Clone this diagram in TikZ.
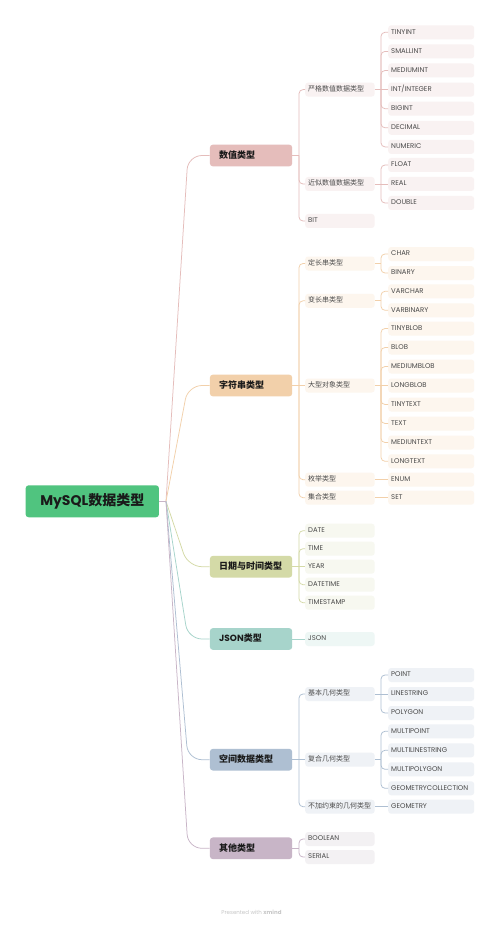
\documentclass[tikz,border=0pt]{standalone}
\usepackage{fontspec}
\setmainfont{Poppins}
\newfontfamily\cjk{Noto Sans CJK SC}
\newcommand\zh[1]{{\cjk\fontsize{7}{8}\selectfont #1}}
\definecolor{rootC}{HTML}{50C47F}
\definecolor{numC}{HTML}{E5BDBB}
\definecolor{numL}{HTML}{F9F2F2}
\definecolor{strC}{HTML}{F2D0AA}
\definecolor{strL}{HTML}{FDF6EE}
\definecolor{datC}{HTML}{D4DAA7}
\definecolor{datL}{HTML}{F7F8F0}
\definecolor{jsnC}{HTML}{A7D4CB}
\definecolor{jsnL}{HTML}{EEF7F5}
\definecolor{spaC}{HTML}{AEBFD2}
\definecolor{spaL}{HTML}{EFF2F6}
\definecolor{othC}{HTML}{C8B5C7}
\definecolor{othL}{HTML}{F3F1F3}
\definecolor{txtgray}{HTML}{4A4A4A}
\definecolor{txtdark}{HTML}{1A1A1A}
\tikzset{
  base/.style={rectangle, rounded corners=3pt, anchor=west, inner ysep=0pt, align=left},
  leaf/.style={base, fill=#1, minimum height=14pt, text width=80pt, inner xsep=3pt,
    font=\fontsize{6.9}{7}\selectfont, text=txtgray, text height=5pt, text depth=1.1pt},
  mid/.style={base, fill=#1, minimum height=14pt, text width=63.5pt, inner xsep=3pt,
    font=\fontsize{6.9}{7}\selectfont, text=txtgray, text height=5pt, text depth=1.1pt},
  top/.style={base, fill=#1, minimum height=21.7pt, text width=63.7pt, inner xsep=9.3pt,
    font=\cjk\bfseries\fontsize{9}{10}\selectfont, text=txtdark, text height=7pt, text depth=1.4pt},
  conn/.style={draw=#1, line width=0.75pt},
}
\newcommand\mmroot[2]{%
  \draw[conn=#2] (root.east) -- (r0);
  \draw[conn=#2, rounded corners=14pt] (r0) -- (tA |- #1.west) -- (#1.west);}
\newcommand\mmstem[3]{\draw[conn=#3] (#1.east) -- (#2 |- #1.east);}
\newcommand\mmfork[4]{\draw[conn=#4, rounded corners=4pt] (#3 |- #1.east) -- (#3 |- #2.west) -- (#2.west);}
\newcommand\mmline[3]{\draw[conn=#3] (#1.east) -- (#2.west);}
\begin{document}
\begin{tikzpicture}[x=1pt,y=-1pt]
\useasboundingbox (0,0) rectangle (500,925);
\fill[white] (0,0) rectangle (500,925);
\coordinate (r0) at (166,501.3);
\coordinate (tA) at (188,0);
\coordinate (tB) at (299,0);
\coordinate (tC) at (381,0);

% root
\node[fill=rootC, rounded corners=3pt, minimum width=133.3pt, minimum height=32pt, inner sep=0pt,
  text=txtdark, font=\fontsize{14}{16}\selectfont] (root) at (92.3,501.3)
  {\bfseries MySQL{\cjk\bfseries 数据类型}};

% ===== numeric =====
\node[top=numC] (num) at (209.7,155.5) {数值类型};
\node[mid=numL] (num1) at (305,89.6) {\zh{严格数值数据类型}};
\node[mid=numL] (num2) at (305,184) {\zh{近似数值数据类型}};
\node[mid=numL] (num3) at (305,221) {BIT};
\node[leaf=numL] (num1a) at (388,32.3) {TINYINT};
\node[leaf=numL] (num1b) at (388,51.4) {SMALLINT};
\node[leaf=numL] (num1c) at (388,70.5) {MEDIUMINT};
\node[leaf=numL] (num1d) at (388,89.6) {INT/INTEGER};
\node[leaf=numL] (num1e) at (388,108.7) {BIGINT};
\node[leaf=numL] (num1f) at (388,127.8) {DECIMAL};
\node[leaf=numL] (num1g) at (388,146.9) {NUMERIC};
\node[leaf=numL] (num2a) at (388,165) {FLOAT};
\node[leaf=numL] (num2b) at (388,184) {REAL};
\node[leaf=numL] (num2c) at (388,203) {DOUBLE};
\mmroot{num}{numC}
\mmstem{num}{tB}{numC}
\mmfork{num}{num1}{tB}{numC}
\mmfork{num}{num2}{tB}{numC}
\mmfork{num}{num3}{tB}{numC}
\mmstem{num1}{tC}{numC}
\mmfork{num1}{num1a}{tC}{numC}
\mmfork{num1}{num1b}{tC}{numC}
\mmfork{num1}{num1c}{tC}{numC}
\mmline{num1}{num1d}{numC}
\mmfork{num1}{num1e}{tC}{numC}
\mmfork{num1}{num1f}{tC}{numC}
\mmfork{num1}{num1g}{tC}{numC}
\mmstem{num2}{tC}{numC}
\mmfork{num2}{num2a}{tC}{numC}
\mmline{num2}{num2b}{numC}
\mmfork{num2}{num2c}{tC}{numC}

% ===== string =====
\node[top=strC] (str) at (209.7,385.5) {字符串类型};
\node[mid=strL] (str1) at (305,263.5) {\zh{定长串类型}};
\node[mid=strL] (str2) at (305,300.8) {\zh{变长串类型}};
\node[mid=strL] (str3) at (305,385.5) {\zh{大型对象类型}};
\node[mid=strL] (str4) at (305,479.7) {\zh{枚举类型}};
\node[mid=strL] (str5) at (305,497.7) {\zh{集合类型}};
\node[leaf=strL] (str1a) at (388,254) {CHAR};
\node[leaf=strL] (str1b) at (388,273) {BINARY};
\node[leaf=strL] (str2a) at (388,291.3) {VARCHAR};
\node[leaf=strL] (str2b) at (388,310.3) {VARBINARY};
\node[leaf=strL] (str3a) at (388,328.5) {TINYBLOB};
\node[leaf=strL] (str3b) at (388,347.5) {BLOB};
\node[leaf=strL] (str3c) at (388,366.5) {MEDIUMBLOB};
\node[leaf=strL] (str3d) at (388,385.5) {LONGBLOB};
\node[leaf=strL] (str3e) at (388,404.5) {TINYTEXT};
\node[leaf=strL] (str3f) at (388,423.5) {TEXT};
\node[leaf=strL] (str3g) at (388,442.5) {MEDIUNTEXT};
\node[leaf=strL] (str3h) at (388,461.3) {LONGTEXT};
\node[leaf=strL] (str4a) at (388,479.7) {ENUM};
\node[leaf=strL] (str5a) at (388,497.7) {SET};
\mmroot{str}{strC}
\mmstem{str}{tB}{strC}
\mmfork{str}{str1}{tB}{strC}
\mmfork{str}{str2}{tB}{strC}
\mmline{str}{str3}{strC}
\mmfork{str}{str4}{tB}{strC}
\mmfork{str}{str5}{tB}{strC}
\mmstem{str1}{tC}{strC}
\mmfork{str1}{str1a}{tC}{strC}
\mmfork{str1}{str1b}{tC}{strC}
\mmstem{str2}{tC}{strC}
\mmfork{str2}{str2a}{tC}{strC}
\mmfork{str2}{str2b}{tC}{strC}
\mmstem{str3}{tC}{strC}
\mmfork{str3}{str3a}{tC}{strC}
\mmfork{str3}{str3b}{tC}{strC}
\mmfork{str3}{str3c}{tC}{strC}
\mmline{str3}{str3d}{strC}
\mmfork{str3}{str3e}{tC}{strC}
\mmfork{str3}{str3f}{tC}{strC}
\mmfork{str3}{str3g}{tC}{strC}
\mmfork{str3}{str3h}{tC}{strC}
\mmline{str4}{str4a}{strC}
\mmline{str5}{str5a}{strC}

% ===== date =====
\node[top=datC] (dat) at (209.7,566.7) {日期与时间类型};
\node[mid=datL] (dat1) at (305,530.7) {DATE};
\node[mid=datL] (dat2) at (305,548.7) {TIME};
\node[mid=datL] (dat3) at (305,566.7) {YEAR};
\node[mid=datL] (dat4) at (305,584.7) {DATETIME};
\node[mid=datL] (dat5) at (305,602.7) {TIMESTAMP};
\mmroot{dat}{datC}
\mmstem{dat}{tB}{datC}
\mmfork{dat}{dat1}{tB}{datC}
\mmfork{dat}{dat2}{tB}{datC}
\mmline{dat}{dat3}{datC}
\mmfork{dat}{dat4}{tB}{datC}
\mmfork{dat}{dat5}{tB}{datC}

% ===== json =====
\node[top=jsnC] (jsn) at (209.7,639) {{\fontspec{Poppins}\bfseries JSON}类型};
\node[mid=jsnL] (jsn1) at (305,639) {JSON};
\mmroot{jsn}{jsnC}
\mmline{jsn}{jsn1}{jsnC}

% ===== spatial =====
\node[top=spaC] (spa) at (209.7,759.7) {空间数据类型};
\node[mid=spaL] (spa1) at (305,694) {\zh{基本几何类型}};
\node[mid=spaL] (spa2) at (305,759.7) {\zh{复合几何类型}};
\node[mid=spaL] (spa3) at (305,806.7) {\zh{不加约束的几何类型}};
\node[leaf=spaL] (spa1a) at (388,675) {POINT};
\node[leaf=spaL] (spa1b) at (388,694) {LINESTRING};
\node[leaf=spaL] (spa1c) at (388,713) {POLYGON};
\node[leaf=spaL] (spa2a) at (388,731.3) {MULTIPOINT};
\node[leaf=spaL] (spa2b) at (388,750.3) {MULTILINESTRING};
\node[leaf=spaL] (spa2c) at (388,769.3) {MULTIPOLYGON};
\node[leaf=spaL] (spa2d) at (388,788.3) {GEOMETRYCOLLECTION};
\node[leaf=spaL] (spa3a) at (388,806.7) {GEOMETRY};
\mmroot{spa}{spaC}
\mmstem{spa}{tB}{spaC}
\mmfork{spa}{spa1}{tB}{spaC}
\mmline{spa}{spa2}{spaC}
\mmfork{spa}{spa3}{tB}{spaC}
\mmstem{spa1}{tC}{spaC}
\mmfork{spa1}{spa1a}{tC}{spaC}
\mmline{spa1}{spa1b}{spaC}
\mmfork{spa1}{spa1c}{tC}{spaC}
\mmstem{spa2}{tC}{spaC}
\mmfork{spa2}{spa2a}{tC}{spaC}
\mmfork{spa2}{spa2b}{tC}{spaC}
\mmfork{spa2}{spa2c}{tC}{spaC}
\mmfork{spa2}{spa2d}{tC}{spaC}
\mmline{spa3}{spa3a}{spaC}

% ===== other =====
\node[top=othC] (oth) at (209.7,848.3) {其他类型};
\node[mid=othL] (oth1) at (305,839) {BOOLEAN};
\node[mid=othL] (oth2) at (305,857) {SERIAL};
\mmroot{oth}{othC}
\mmstem{oth}{tB}{othC}
\mmfork{oth}{oth1}{tB}{othC}
\mmfork{oth}{oth2}{tB}{othC}

% footer
\node[font=\fontsize{5.5}{6}\selectfont, text=black!22] (foot) at (251.5,912.5)
  {Presented with \textbf{xmind}};
\end{tikzpicture}
\end{document}
